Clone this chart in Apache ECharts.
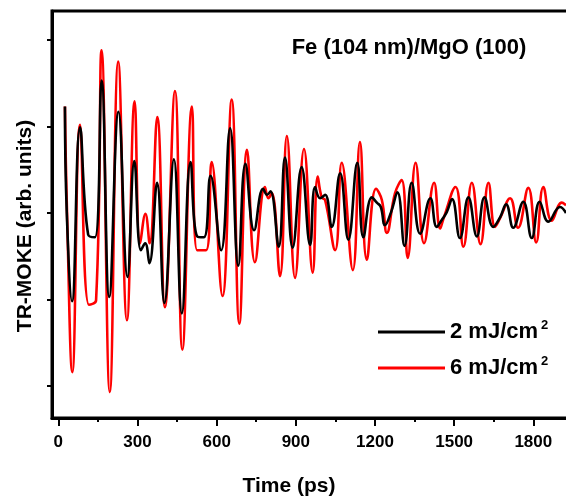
<!DOCTYPE html>
<html>
<head>
<meta charset="utf-8">
<script src="https://cdn.jsdelivr.net/npm/echarts@6/dist/echarts.min.js"></script>
<style>
html,body{margin:0;padding:0;background:#fff;overflow:hidden;}
#c{width:566px;height:501px;}
</style>
</head>
<body>
<div id="c"></div>
<script>
// ---- data (time in ps, signal in arb. units) ----
const timeLow = [25,32,52,82,113,139,164,193,228,262,288,313,329,345,374,402,438,468,501,526,552,577,617,651,682,709,742,776,791,804,835,859,888,922,954,973,992,1011,1036,1068,1099,1133,1156,1188,1207,1222,1238,1261,1285,1312,1339,1371,1410,1434,1453,1472,1492,1522,1554,1586,1615,1648,1674,1697,1724,1762,1794,1824,1857,1901,1924];
const valLow  = [1.23,0,-1.02,0.99,-0.25,-0.28,1.53,-0.97,1.17,-0.74,0.60,-0.43,-0.35,-0.58,0.35,-1.04,0.62,-1.16,0.59,-0.27,-0.28,0.43,-0.43,0.98,-0.61,0.57,-0.20,0.28,0.21,0.25,-0.39,0.64,-0.40,0.53,-0.37,0.30,0.17,0.21,-0.16,0.46,-0.31,0.58,-0.28,0.18,0.12,0.07,-0.14,0.01,0.24,-0.38,0.35,-0.24,0.17,-0.16,-0.08,0.01,0.16,-0.29,0.18,-0.27,0.18,-0.16,-0.05,0.10,-0.17,0.13,-0.29,0.13,-0.10,0.07,0];

const timeHigh = [25,33,53,82,116,143,164,195,227,260,289,310,330,346,375,404,442,470,506,526,560,581,622,657,686,715,745,783,796,809,840,866,897,931,964,983,998,1011,1049,1074,1116,1143,1169,1204,1226,1245,1276,1301,1324,1354,1386,1424,1447,1460,1505,1535,1567,1600,1630,1655,1674,1712,1742,1781,1811,1838,1870,1908,1924];
const valHigh  = [1.23,0,-1.84,1.02,-1.06,-1.01,1.88,-2.07,1.75,-1.24,1.29,-0.35,-0.01,-0.35,1.11,-1.09,1.41,-1.58,1.23,-0.43,-0.43,0.59,-0.96,1.31,-1.28,0.73,-0.57,0.30,0.17,0.23,-0.73,0.89,-0.75,0.74,-0.69,0.42,0.18,0.15,-0.43,0.58,-0.66,0.82,-0.54,0.28,0.15,-0.23,0.23,0.38,-0.52,0.58,-0.35,0.35,-0.18,-0.06,0.30,-0.39,0.35,-0.36,0.35,-0.16,-0.06,0.17,-0.17,0.29,-0.34,0.30,-0.09,0.12,0.09];

const xMajorTicks = [0,300,600,900,1200,1500,1800];
const xMinorTicks = [150,450,750,1050,1350,1650];
const yTicks = [-2,-1,0,1,2];
const seriesNames = ['2 mJ/cm2','6 mJ/cm2'];

const FONT = '"Liberation Sans", Arial, sans-serif';
const X_MIN = -24, X_MAX = 1939, Y_MIN = -2.37, Y_MAX = 2.335;

const chart = echarts.init(document.getElementById('c'), null, {renderer:'canvas'});
const pairs = (t, v) => t.map((x, i) => [x, v[i]]);

chart.setOption({
  animation: false,
  backgroundColor: '#fff',
  grid: {left: 52, right: -4, top: 11, bottom: 83, containLabel: false, outerBoundsMode: 'none',
         show: true, borderColor: '#000', borderWidth: 3, backgroundColor: 'rgba(0,0,0,0)'},
  xAxis: [
    {
      type: 'value', position: 'bottom', min: X_MIN, max: X_MAX,
      axisLine: {show: true, onZero: false, lineStyle: {color: '#000', width: 3}},
      axisTick: {show: true, inside: false, length: 8, customValues: xMajorTicks, lineStyle: {color: '#000', width: 2}},
      axisLabel: {show: true, customValues: xMajorTicks, formatter: v => String(v), margin: 16, color: '#000', fontSize: 17, fontWeight: 'bold', fontFamily: FONT},
      splitLine: {show: false}
    },
    {
      type: 'value', position: 'bottom', min: X_MIN, max: X_MAX,
      axisLine: {show: false, onZero: false},
      axisTick: {show: true, inside: false, length: 4, customValues: xMinorTicks, lineStyle: {color: '#000', width: 2}},
      axisLabel: {show: false},
      splitLine: {show: false}
    }
  ],
  yAxis: {
    type: 'value', min: Y_MIN, max: Y_MAX,
    axisLine: {show: true, onZero: false, lineStyle: {color: '#000', width: 3}},
    axisTick: {show: true, inside: false, length: 5, customValues: yTicks, lineStyle: {color: '#000', width: 2}},
    axisLabel: {show: false},
    splitLine: {show: false}
  },
  legend: {
    data: seriesNames,
    orient: 'vertical',
    left: 373, top: 314,
    icon: 'rect',
    itemWidth: 67, itemHeight: 3, itemGap: 10,
    formatter: name => '{a|' + name.slice(0, -1) + '}{s|' + name.slice(-1) + '}',
    textStyle: {
      color: '#000', fontFamily: FONT, fontWeight: 'bold', fontSize: 22, lineHeight: 26,
      rich: {
        a: {color: '#000', fontFamily: FONT, fontWeight: 'bold', fontSize: 22, lineHeight: 26},
        s: {color: '#000', fontFamily: FONT, fontWeight: 'bold', fontSize: 13, lineHeight: 26, verticalAlign: 'top', padding: [0, 0, 0, 3]}
      }
    }
  },
  graphic: [
    {type: 'text', x: 409, y: 48, style: {text: 'Fe (104 nm)/MgO (100)', fill: '#000', font: 'bold 22px ' + FONT, textAlign: 'center', textVerticalAlign: 'middle'}},
    {type: 'text', x: 25, y: 226, rotation: Math.PI / 2, style: {text: 'TR-MOKE (arb. units)', fill: '#000', font: 'bold 21px ' + FONT, textAlign: 'center', textVerticalAlign: 'middle'}},
    {type: 'text', x: 289, y: 486, style: {text: 'Time (ps)', fill: '#000', font: 'bold 21px ' + FONT, textAlign: 'center', textVerticalAlign: 'middle'}}
  ],
  series: [
    {
      name: seriesNames[1], type: 'line', xAxisIndex: 0, data: pairs(timeHigh, valHigh),
      showSymbol: false, symbol: 'none', smooth: 0.45,
      lineStyle: {color: '#ff0000', width: 2.6}, itemStyle: {color: '#ff0000'}
    },
    {
      name: seriesNames[0], type: 'line', xAxisIndex: 0, data: pairs(timeLow, valLow),
      showSymbol: false, symbol: 'none', smooth: 0.45,
      lineStyle: {color: '#000', width: 2.6}, itemStyle: {color: '#000'}
    }
  ]
});
</script>
</body>
</html>
